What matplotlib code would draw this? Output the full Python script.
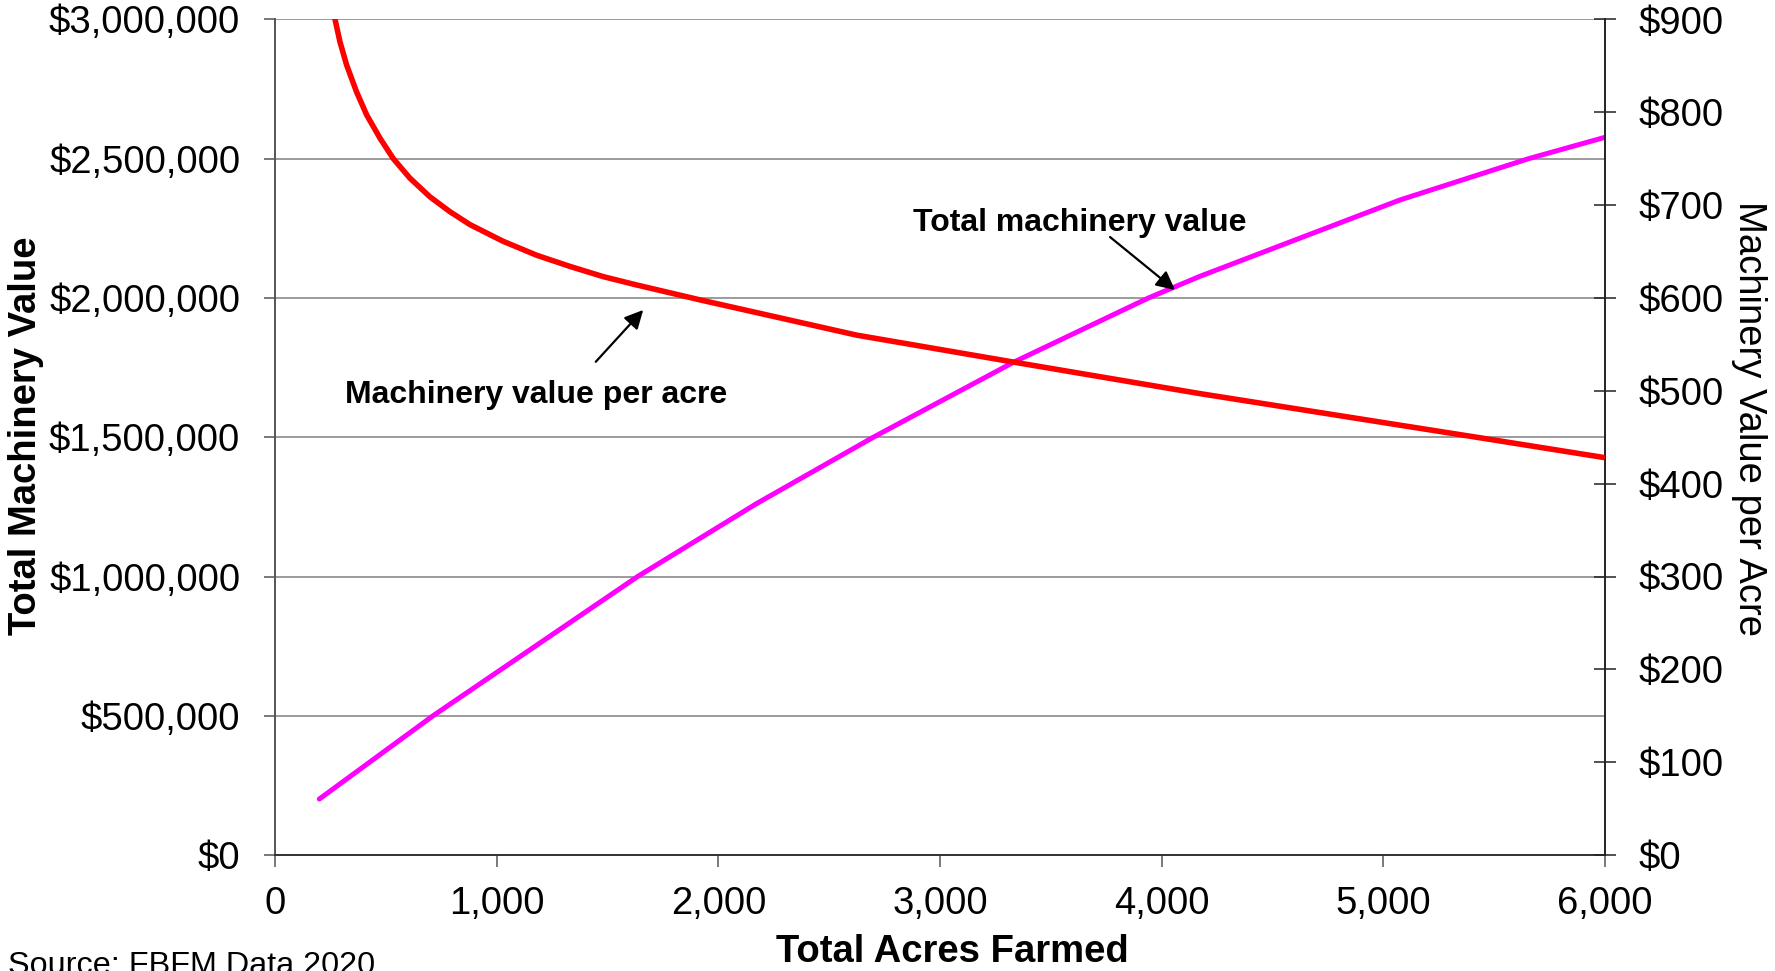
import matplotlib
matplotlib.use("Agg")
import matplotlib.pyplot as plt
from matplotlib.ticker import FuncFormatter, MultipleLocator

plt.rcParams['font.family'] = ['Liberation Sans', 'DejaVu Sans']

# Total machinery value (left axis, $) vs acres
total_acres = [200, 713, 1636, 2173, 2699, 3331, 3940, 4173, 5075, 5654, 6000]
total_value = [201000, 500000, 1000000, 1262000, 1500000, 1769000, 2000000,
               2078000, 2352000, 2500000, 2577000]

# Machinery value per acre (right axis, $/acre) vs acres
per_acre_acres = [200, 271, 293, 323, 368, 414, 474, 534, 609, 699, 789, 880,
                  1030, 1181, 1331, 1481, 1632, 1917, 2624, 3331, 4173, 5075,
                  5421, 6000]
per_acre_value = [990, 900, 876, 851, 822, 797, 772, 750, 729, 709, 693, 679,
                  661, 646, 634, 623, 614, 598, 560, 531, 497, 463, 450, 428]

x_ticks = [0, 1000, 2000, 3000, 4000, 5000, 6000]

W, H = 1775, 971
fig = plt.figure(figsize=(W / 100, H / 100), dpi=100)
ax = fig.add_axes([275 / W, 1 - 855 / H, (1605 - 275) / W, (855 - 19.5) / H])
ax2 = ax.twinx()

TICK_FS = 27.5
grid_c = '#808080'

ax.set_xlim(0, 6000)
ax.set_ylim(0, 3000000)
ax2.set_ylim(0, 900)
ax.set_xticks(x_ticks)
ax.yaxis.set_major_locator(MultipleLocator(500000))
ax2.yaxis.set_major_locator(MultipleLocator(100))

ax.xaxis.set_major_formatter(FuncFormatter(lambda v, p: f"{v:,.0f}"))
ax.yaxis.set_major_formatter(FuncFormatter(lambda v, p: f"${v:,.0f}"))
ax2.yaxis.set_major_formatter(FuncFormatter(lambda v, p: f"${v:,.0f}"))

ax.grid(axis='y', color=grid_c, linewidth=1.1)
ax.set_axisbelow(True)

for a in (ax, ax2):
    a.spines['top'].set_visible(False)
ax.spines['right'].set_visible(False)
ax2.spines['left'].set_visible(False)
ax2.spines['bottom'].set_visible(False)
ax.spines['left'].set_color('#555555')
ax.spines['left'].set_linewidth(1.4)
ax.spines['bottom'].set_color('#333333')
ax.spines['bottom'].set_linewidth(1.4)
ax2.spines['right'].set_color('#222222')
ax2.spines['right'].set_linewidth(1.4)

ax.tick_params(axis='y', direction='out', length=8, width=1.1, color='#555555',
               pad=17, labelsize=TICK_FS)
ax.tick_params(axis='x', direction='out', length=8.5, width=1.1, color='#555555',
               pad=14, labelsize=TICK_FS)
ax2.tick_params(axis='y', direction='inout', length=16.5, width=1.1, color='#222222',
                pad=16, labelsize=TICK_FS)

ax.plot(total_acres, total_value, color='#FF00FF', linewidth=3.6,
        solid_capstyle='round', solid_joinstyle='round', zorder=3)
ax2.plot(per_acre_acres, per_acre_value, color='#FF0000', linewidth=4.0,
         solid_capstyle='butt', solid_joinstyle='round', zorder=3)

# Annotations (left-axis data coordinates)
ax.text(3632, 2240600, "Total machinery value", fontsize=23, fontweight='bold',
        ha='center', va='baseline')
ax.annotate("", xy=(4060, 2029000), xytext=(3767, 2219000),
            arrowprops=dict(arrowstyle='-|>', color='black', lw=1.6,
                            mutation_scale=28, shrinkA=0, shrinkB=0))
ax.text(1177, 1623000, "Machinery value per acre", fontsize=23, fontweight='bold',
        ha='center', va='baseline')
ax.annotate("", xy=(1661, 1957000), xytext=(1447, 1771000),
            arrowprops=dict(arrowstyle='-|>', color='black', lw=1.6,
                            mutation_scale=28, shrinkA=0, shrinkB=0))

# Axis titles
fig.text(26 / W, 1 - 436 / H, "Total Machinery Value", rotation=90, fontsize=27.5,
         fontweight='bold', ha='center', va='center')
fig.text(952.5 / W, (H - 962) / H, "Total Acres Farmed", fontsize=27.5,
         fontweight='bold', ha='center', va='baseline')
fig.text(1749 / W, 1 - 418 / H, "Machinery Value per Acre", rotation=270,
         fontsize=27.5, ha='center', va='center')
fig.text(8 / W, (H - 974) / H, "Source: FBFM Data 2020", fontsize=23.3,
         ha='left', va='baseline')

fig.savefig("out.png", dpi=100)
